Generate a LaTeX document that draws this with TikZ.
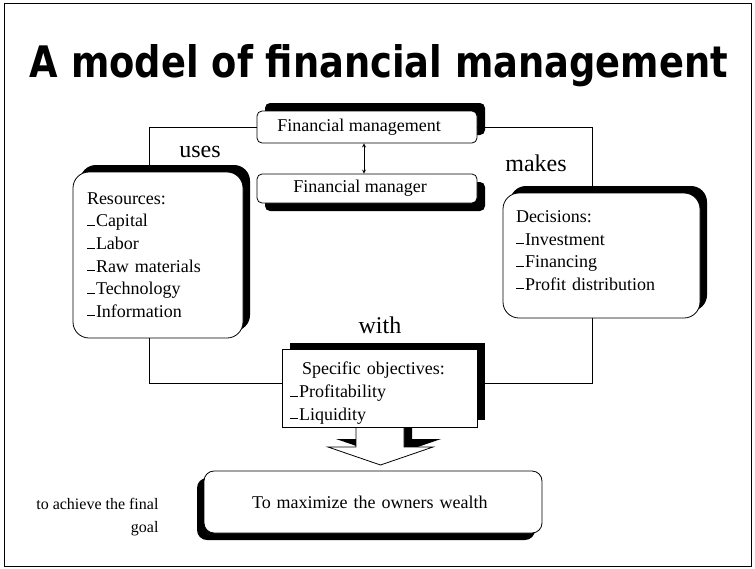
\documentclass[tikz,border=0pt]{standalone}
\usepackage{fontspec}
\usepackage{graphicx}
\setmainfont{Liberation Serif}
\newfontfamily\titlefont{DejaVu Sans}
\usetikzlibrary{shadows}

\newcommand{\itm}{\rule[1pt]{8pt}{0.9pt}\hspace{1pt}}

\begin{document}
\begin{tikzpicture}[x=1pt,y=-1pt,
box/.style={draw,line width=0.8pt,fill=white,font=\fontsize{18}{22.6}\selectfont},
shade/.style 2 args={drop shadow={shadow xshift=#1,shadow yshift=#2,fill=black,opacity=1}},
lbl/.style={font=\fontsize{24}{28}\selectfont},
link/.style={line width=0.8pt}]
\useasboundingbox (0,0) rectangle (755,568);
\draw[line width=1pt] (4,3.5) rectangle (751.5,566.5);
\node[anchor=base] (title) at (379,77) {\resizebox{698pt}{33pt}{\titlefont\bfseries A model of financial management}};
\node[box,rounded corners=5pt,minimum width=220pt,minimum height=32pt,shade={8pt}{8pt}] (fm) at (367,127) {Financial management\kern16pt};
\node[box,rounded corners=5pt,minimum width=220pt,minimum height=29pt,shade={8pt}{-8pt}] (fmr) at (367,188.5) {Financial manager\kern14pt};
\node[box,rounded corners=16pt,minimum width=170pt,minimum height=166pt,text width=142pt,align=left,shade={7pt}{7pt}] (res) at (158,255)
{Resources:\\ \itm Capital\\ \itm Labor\\ \itm Raw materials\\ \itm Technology\\ \itm Information};
\node[box,rounded corners=16pt,minimum width=197pt,minimum height=125pt,text width=171pt,align=left,shade={7pt}{7pt}] (dec) at (601.5,255.5)
{Decisions:\\ \itm Investment\\ \itm Financing\\ \itm Profit distribution\rule[-10pt]{0pt}{10pt}};
\fill[shift={(8pt,8pt)}] (356,415) -- (356,447) -- (328,447) -- (380.5,465) -- (433,447) -- (404,447) -- (404,415) -- cycle;
\filldraw[fill=white,line width=0.8pt] (356,415) -- (356,447) -- (328,447) -- (380.5,465) -- (433,447) -- (404,447) -- (404,415) -- cycle;
\node[box,minimum width=195pt,minimum height=75pt,text width=179pt,align=left,shade={8pt}{7pt}] (obj) at (379.5,388.5)
{\rule{0pt}{22pt}\hspace*{12pt}Specific objectives:\\ \itm Profitability\\ \itm Liquidity};
\node[box,rounded corners=10pt,minimum width=338pt,minimum height=62pt,text width=242pt,align=left,shade={-7pt}{-7pt}] (goal) at (373,502)
{To maximize the owners wealth};
\node[lbl] (uses) at (200,152) {uses};
\node[lbl] (makes) at (536,163) {makes};
\node[lbl] (with) at (380,325) {with};
\node[font=\fontsize{16}{23}\selectfont,align=right,anchor=north east] (aim) at (162,495) {to achieve the final\\goal};
\coordinate (ul) at (149,128);
\coordinate (ur) at (592,128);
\draw[link] (fm.west) -| (ul |- res.north);
\draw[link] (fm.east) -| (ur |- dec.north);
\draw[link] (res.south -| ul) |- ([yshift=5.5pt]obj.west);
\draw[link] (dec.south -| ur) |- ([yshift=5.5pt]obj.east);
\draw[link,<->,>=stealth] ([xshift=-3pt]fm.south) -- ([xshift=-3pt]fmr.north);
\end{tikzpicture}
\end{document}
